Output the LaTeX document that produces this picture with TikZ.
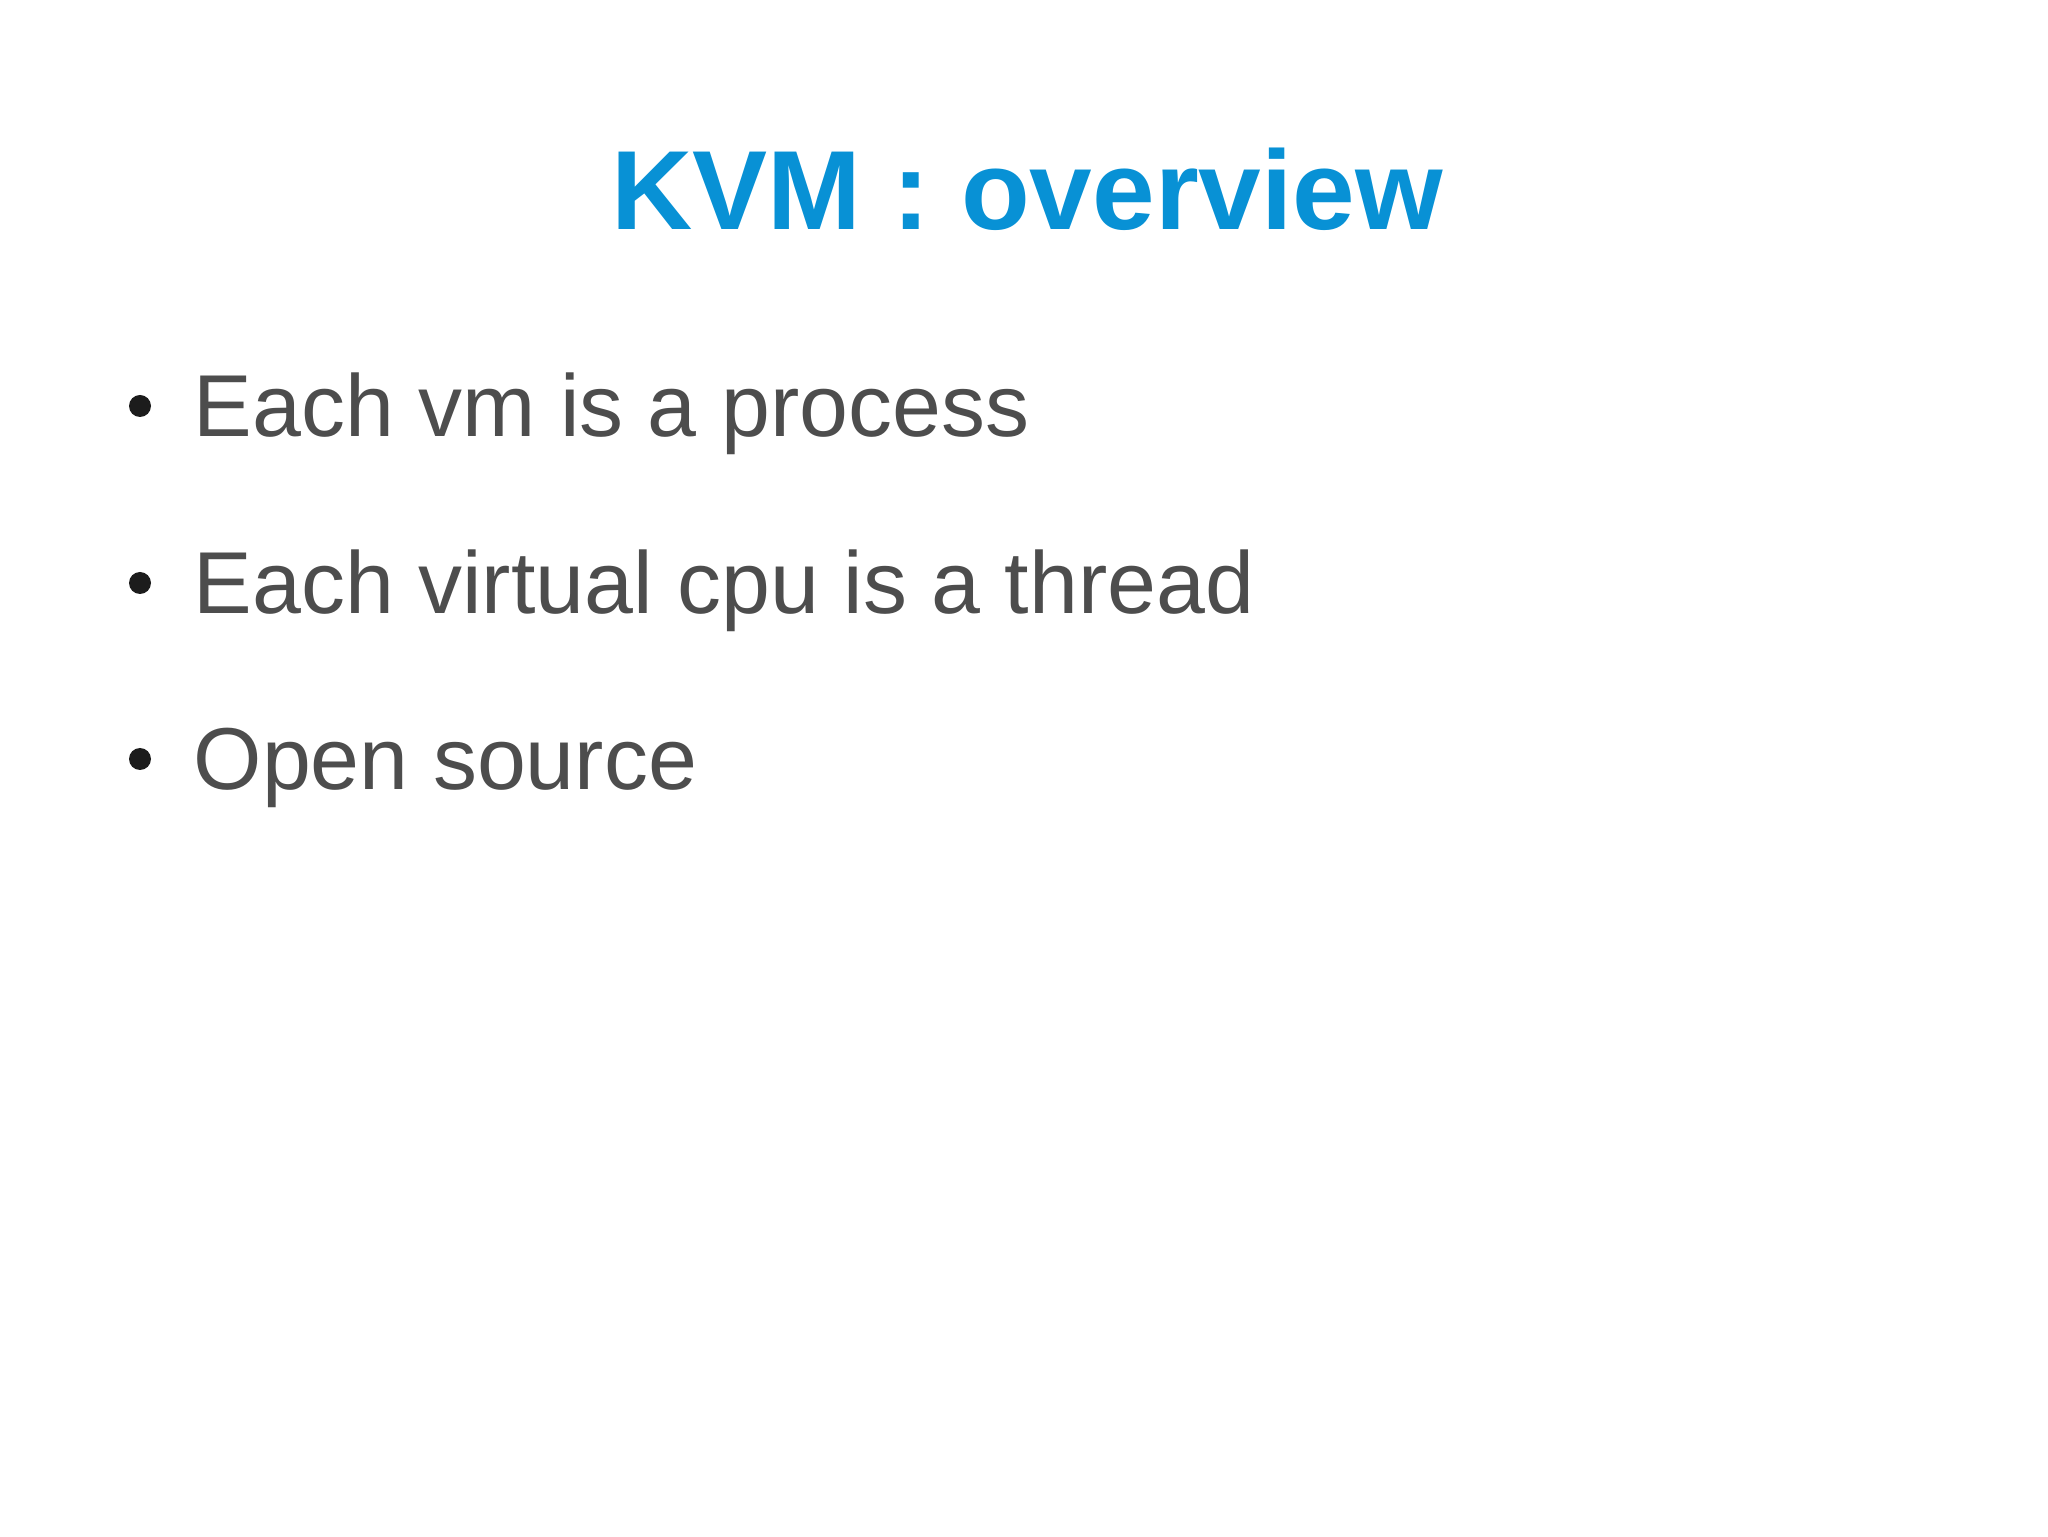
\documentclass[tikz,border=0pt]{standalone}
\usepackage{fontspec}
\setmainfont{Liberation Sans}
\definecolor{titleblue}{HTML}{0891D5}
\definecolor{txtgray}{HTML}{4D4D4D}
\definecolor{dotblack}{HTML}{1C1C1C}
\begin{document}
\begin{tikzpicture}[x=0.01cm,y=-0.01cm,
  title/.style={font=\fontsize{32}{38}\selectfont\bfseries,text=titleblue,anchor=base,inner sep=0},
  item/.style={font=\fontsize{25}{30}\selectfont,text=txtgray,anchor=base west,inner sep=0},
  dot/.style={fill=dotblack,draw=none}]
\useasboundingbox (0,0) rectangle (2048,1537);
\node[title] (t) at (1027,230) {KVM : overview};
\node[item] (a) at (193,437) {Each vm is a process};
\node[item] (b) at (193,614) {Each virtual cpu is a thread};
\node[item] (c) at (193,790) {Open source};
\fill[dot] (140,406) circle (11);
\fill[dot] (140,583) circle (11);
\fill[dot] (140,759) circle (11);
\end{tikzpicture}
\end{document}
